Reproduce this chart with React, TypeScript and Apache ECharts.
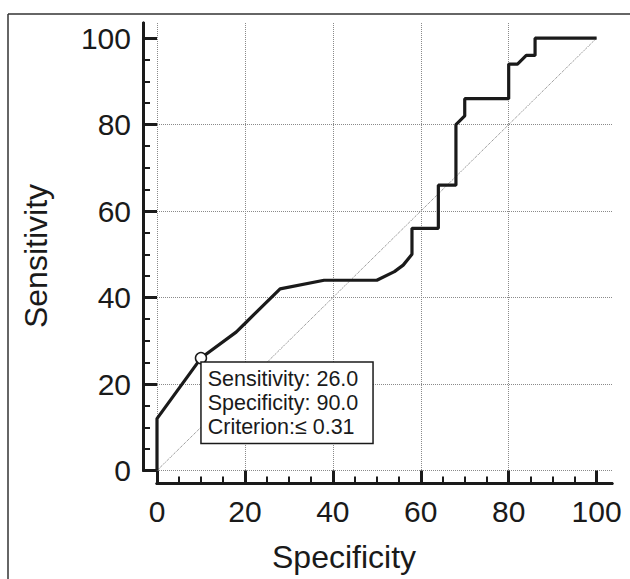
import { useEffect, useRef } from "react";
import * as echarts from "echarts";

// ROC curve points (x = 100 - specificity, y = sensitivity)
const rocX = [0, 0, 10, 18, 20, 28, 38, 50, 54, 56, 58, 58, 64, 64, 68, 68, 70, 70, 80, 80, 82, 84, 86, 86, 100];
const rocY = [0, 12, 26, 32, 34, 42, 44, 44, 46, 47.5, 50, 56, 56, 66, 66, 80, 82, 86, 86, 94, 94, 96, 96, 100, 100];

// reference diagonal
const diagX = [0, 100];
const diagY = [0, 100];

// optimal criterion point
const cutX = [10];
const cutY = [26];
const cutLines = ["Sensitivity: 26.0", "Specificity: 90.0", "Criterion:\u2264 0.31"];

const majorTicks = [0, 20, 40, 60, 80, 100];
const minorTicks = [5, 10, 15, 25, 30, 35, 45, 50, 55, 65, 70, 75, 85, 90, 95];

const FONT = "'Liberation Sans', Arial, Helvetica, sans-serif";
const INK = "#1a1a1a";

function makeAxes(dim: "x" | "y") {
  const max = 103.5;
  const major: any = {
    type: "value",
    min: 0,
    max,
    interval: 20,
    position: dim === "x" ? "bottom" : "left",
    offset: dim === "x" ? 13 : 14,
    axisLine: { show: true, onZero: false, lineStyle: { color: INK, width: 3 } },
    axisTick: {
      show: true,
      inside: true,
      length: dim === "x" ? 13 : 14,
      customValues: majorTicks,
      lineStyle: { color: INK, width: 3 },
    },
    axisLabel: {
      show: true,
      customValues: majorTicks,
      fontSize: 30,
      fontFamily: FONT,
      color: INK,
      margin: dim === "x" ? 13 : 12,
      padding: dim === "y" ? [0, 0, 5, 0] : 0,
    },
    splitLine: {
      show: true,
      showMaxLine: false,
      lineStyle: { type: "dotted", color: "#8a8a8a", width: 1 },
    },
  };
  const minor: any = {
    type: "value",
    min: 0,
    max,
    position: dim === "x" ? "bottom" : "left",
    offset: dim === "x" ? 13 : 14,
    axisLine: { show: true, onZero: false, lineStyle: { color: INK, width: 3 } },
    axisTick: {
      show: true,
      inside: true,
      length: 7,
      customValues: minorTicks,
      lineStyle: { color: INK, width: 2 },
    },
    axisLabel: { show: false },
    splitLine: { show: false },
  };
  return [major, minor];
}

export default function App() {
  const ref = useRef<HTMLDivElement>(null);
  useEffect(() => {
    const chart = echarts.init(ref.current!, null, { renderer: "svg" });
    const roc = rocX.map((x, i) => [x, rocY[i]]);
    const diag = diagX.map((x, i) => [x, diagY[i]]);
    const cut = cutX.map((x, i) => [x, cutY[i]]);
    chart.setOption({
      animation: false,
      backgroundColor: "#fff",
      grid: { left: 157, right: 18, top: 23, bottom: 108.5, containLabel: false },
      xAxis: makeAxes("x"),
      yAxis: makeAxes("y"),
      graphic: [
        { type: "line", shape: { x1: 8, y1: 14, x2: 630, y2: 14 }, style: { stroke: "#333", lineWidth: 1.5 } },
        { type: "line", shape: { x1: 8, y1: 14, x2: 8, y2: 579 }, style: { stroke: "#333", lineWidth: 1.5 } },
        {
          type: "text",
          x: 344,
          y: 557,
          style: { text: "Specificity", fontSize: 32, fontFamily: FONT, fill: INK, align: "center", verticalAlign: "middle" },
        },
        {
          type: "text",
          x: 36,
          y: 256,
          rotation: Math.PI / 2,
          style: { text: "Sensitivity", fontSize: 32, fontFamily: FONT, fill: INK, align: "center", verticalAlign: "middle" },
        },
      ],
      series: [
        {
          type: "line",
          data: diag,
          symbol: "none",
          silent: true,
          lineStyle: { type: "dotted", color: "#777", width: 1 },
          z: 2,
        },
        {
          type: "line",
          data: roc,
          symbol: "none",
          lineStyle: { color: INK, width: 3.2 },
          z: 3,
        },
        {
          type: "scatter",
          data: cut,
          symbol: "circle",
          symbolSize: 11,
          itemStyle: { color: "#fff", borderColor: INK, borderWidth: 1.5, opacity: 1 },
          z: 5,
          label: {
            show: true,
            position: [7, 11],
            formatter: cutLines.join("\n"),
            fontSize: 21.5,
            lineHeight: 24,
            fontFamily: FONT,
            color: INK,
            align: "left",
            verticalAlign: "top",
            backgroundColor: "#fff",
            borderColor: INK,
            borderWidth: 1.5,
            padding: [4, 14, 4, 6],
          },
        },
      ],
    });
    return () => chart.dispose();
  }, []);
  return (
    <div
      ref={ref}
      style={{ position: "fixed", left: 0, top: 0, width: 630, height: 579, background: "#fff" }}
    />
  );
}
